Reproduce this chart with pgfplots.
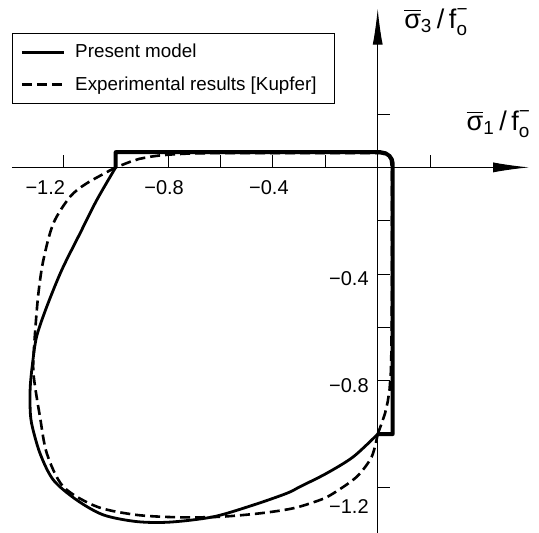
\documentclass[border=0pt]{standalone}
\usepackage{amsmath}
\usepackage{fontspec}
\setmainfont{Liberation Sans}
\usepackage{pgfplots}
\pgfplotsset{compat=1.18}
\usetikzlibrary{arrows.meta}

\newcommand{\slab}[1]{$\overline{\text{σ}}_{\text{#1}}\text{\,/\,f}_{\text{o}}^{\text{−}}$}

\begin{document}
\begin{tikzpicture}
\begin{axis}[
  x=131pt, y=133.35pt,
  xmin=-1.396, xmax=0.578, ymin=-1.3708, ymax=0.595,
  axis lines=middle,
  axis line style={line width=0.5pt, -{Latex[length=18pt,width=5pt]}},
  tick align=inside,
  major tick length=6pt, minor tick length=6pt,
  tick style={black, line width=0.5pt},
  xtick={-0.8,-0.4}, xticklabels={−0.8,−0.4},
  extra x ticks={-1.2}, extra x tick labels={−1.2},
  extra x tick style={xticklabel style={xshift=-7pt}},
  minor xtick={-1.0,-0.6,-0.2,0.2},
  ytick={-0.4,-0.8}, yticklabels={−0.4,−0.8},
  minor ytick={0.2,-0.2,-0.6,-1.0},
  extra y ticks={-1.2}, extra y tick labels={−1.2},
  extra y tick style={yticklabel style={yshift=-7pt}},
  ticklabel style={font=\fontsize{10}{12}\selectfont},
  xticklabel style={yshift=-3pt, xshift=-2pt},
  yticklabel style={yshift=-2.5pt, xshift=-1pt},
  xlabel={\slab{1}}, ylabel={\slab{3}},
  xlabel style={at={(axis description cs:1.017,0.740)}, anchor=south east, font=\fontsize{13.5}{15}\selectfont},
  ylabel style={at={(axis description cs:0.745,0.9746)}, anchor=west, rotate=0, font=\fontsize{13.5}{15}\selectfont},
  legend style={at={(axis description cs:0.0,0.953)}, anchor=north west,
    draw=black, line width=0.5pt, font=\fontsize{9.4}{11}\selectfont,
    inner xsep=4pt, inner ysep=3pt, row sep=4pt, cells={anchor=west},
    nodes={inner xsep=5pt}},
  legend image code/.code={\draw[#1] (0pt,0pt) -- (21pt,0pt);},
  every axis plot/.append style={black, line join=round},
]
% compression branch, present model
\addplot[line width=1.4pt, smooth, tension=0.5] coordinates {
(-1.0,0) (-1.072,-0.122) (-1.136,-0.247) (-1.206,-0.385) (-1.263,-0.522)
(-1.302,-0.635) (-1.318,-0.74) (-1.326,-0.82) (-1.327,-0.89) (-1.321,-0.96)
(-1.289,-1.072) (-1.238,-1.172) (-1.149,-1.247) (-1.047,-1.303) (-0.92,-1.328)
(-0.793,-1.330) (-0.627,-1.31) (-0.475,-1.266) (-0.347,-1.222) (-0.296,-1.197)
(-0.195,-1.147) (-0.093,-1.085) (0,-1.0)};
% experimental (Kupfer), compression branch
\addplot[line width=1.3pt, dash pattern=on 5pt off 2.5pt, smooth, tension=0.5] coordinates {
(-1.0,0) (-1.111,-0.06) (-1.174,-0.11) (-1.238,-0.21) (-1.276,-0.347)
(-1.295,-0.472) (-1.308,-0.622) (-1.315,-0.747) (-1.308,-0.82) (-1.289,-0.935)
(-1.263,-1.072) (-1.2,-1.197) (-1.072,-1.272) (-0.92,-1.303) (-0.756,-1.312)
(-0.602,-1.31) (-0.449,-1.297) (-0.322,-1.278) (-0.22,-1.247) (-0.169,-1.222)
(-0.08,-1.16) (-0.023,-1.085) (0,-1.0)};
% experimental (Kupfer), tension part
\addplot[line width=1.3pt, dash pattern=on 5pt off 2.5pt, forget plot] coordinates {
(0,-1.0) (0.015,-0.96) (0.028,-0.922) (0.038,-0.88) (0.045,-0.835)
(0.050,-0.77) (0.052,-0.7) (0.054,-0.5) (0.054,0.0) (0.050,0.03) (0.040,0.046) (0.01,0.054)
(-0.6,0.054) (-0.72,0.052) (-0.78,0.049) (-0.83,0.045) (-0.868,0.04) (-0.91,0.032) (-0.945,0.021) (-1.0,0)};
% tension cut-off, present model
\addplot[line width=2pt, forget plot] coordinates {
(-1.0,0) (-1.0,0.057) (0.01,0.057) (0.03,0.053) (0.045,0.043) (0.054,0.03)
(0.057,0.015) (0.057,-1.0) (0,-1.0)};
\legend{Present model, Experimental results [Kupfer]}
\coordinate (bl) at (axis cs:-1.4416,-1.3708);
\coordinate (tr) at (axis cs:0.6156,0.6277);
\end{axis}
\pgfresetboundingbox
\path[use as bounding box] (bl) rectangle (tr);
\end{tikzpicture}
\end{document}
